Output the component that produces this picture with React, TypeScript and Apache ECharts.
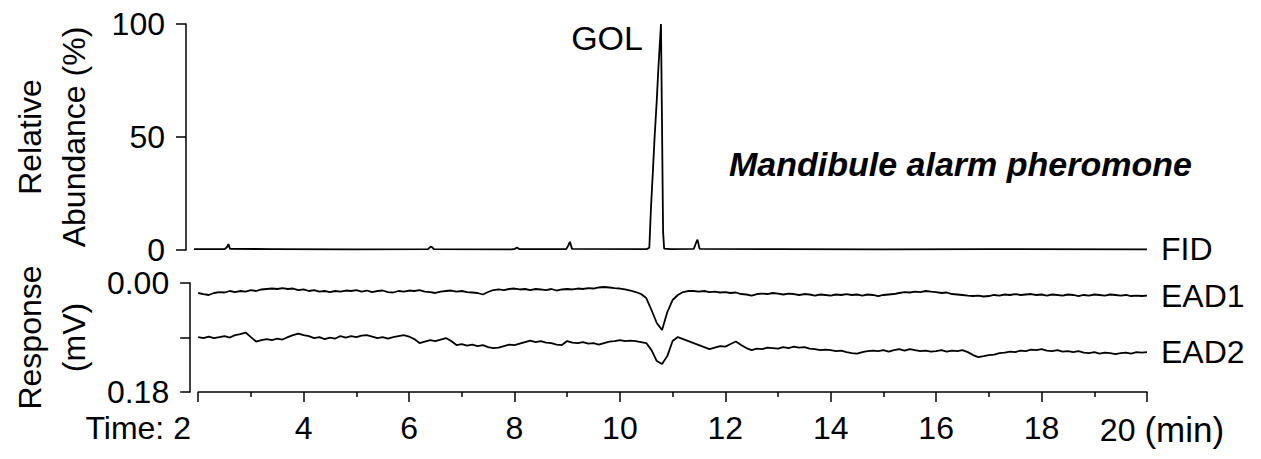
import React, { useEffect, useRef } from 'react';
import * as echarts from 'echarts';

const FONT = '"Liberation Sans", Arial, Helvetica, sans-serif';

// x-axis tick range (min)
const X_MIN = 2;
const X_MAX = 20;

// FID trace: retention time (min) and relative abundance (%)
const FID_TIME = [2.0, 2.58, 2.62, 2.65, 2.68, 3.5, 5.0, 6.42, 6.47, 6.5, 6.53, 8.0, 8.06, 8.1, 8.14, 9.03, 9.07, 9.1, 9.14, 10.55, 10.6, 10.63, 10.67, 10.7, 10.74, 10.77, 10.8, 10.82, 10.84, 10.86, 10.88, 11.0, 11.44, 11.48, 11.51, 11.55, 13, 15, 17, 20];
const FID_VALUE = [0.4, 0.4, 1.2, 2.6, 0.5, 0.4, 0.3, 0.4, 1.5, 1.2, 0.4, 0.3, 0.5, 1.1, 0.4, 0.4, 2.0, 3.6, 0.5, 0.4, 1.0, 18, 36, 50, 66, 80, 92, 100, 55, 8, 0.6, 0.4, 0.5, 3.0, 4.6, 0.5, 0.4, 0.3, 0.4, 0.3];

// EAD traces sampled every 0.1 min from 2.0 to 20.0 (response in µV, axis shown in mV)
const EAD_TIME = Array.from({ length: 181 }, (_, i) => Math.round((2 + i * 0.1) * 10) / 10);
const EAD1_UV = [
  16.5, 18.2, 19.8, 16.5, 14.9, 15.7, 13.2, 14.9, 13.2, 14.1,
  11.6, 13.2, 10.7, 9.9, 9.1, 9.9, 8.3, 9.9, 9.1, 11.6,
  10.7, 13.2, 11.6, 14.1, 13.2, 14.9, 13.2, 14.1, 12.4, 13.2,
  11.6, 14.1, 12.4, 14.9, 13.2, 12.4, 14.9, 15.7, 13.2, 14.1,
  12.4, 13.2, 11.6, 14.1, 14.9, 16.5, 14.1, 13.2, 12.4, 14.1,
  13.2, 14.9, 15.7, 16.5, 19.0, 14.9, 11.6, 10.7, 11.6, 9.9,
  9.1, 10.7, 9.9, 11.6, 9.9, 10.7, 11.6, 9.9, 12.4, 10.7,
  9.9, 10.7, 9.1, 9.9, 8.3, 9.1, 7.4, 6.6, 7.4, 8.3,
  9.1, 10.7, 12.4, 14.9, 18.2, 24.8, 44.6, 66.1, 77.7, 47.9,
  28.1, 19.8, 14.9, 13.2, 13.2, 14.1, 13.2, 14.9, 14.1, 15.7,
  14.9, 16.5, 15.7, 18.2, 19.0, 20.7, 18.2, 17.4, 18.2, 16.5,
  17.4, 19.0, 17.4, 18.2, 19.8, 18.2, 19.0, 20.7, 19.0, 19.8,
  20.7, 19.0, 19.8, 18.2, 19.8, 19.0, 20.7, 19.0, 19.8, 21.5,
  19.8, 19.0, 18.2, 16.5, 14.9, 15.7, 14.1, 14.9, 13.2, 14.1,
  14.9, 16.5, 15.7, 18.2, 19.0, 19.8, 20.7, 21.5, 20.7, 22.3,
  21.5, 19.8, 20.7, 19.0, 19.8, 18.2, 19.8, 19.0, 18.2, 19.8,
  19.0, 20.7, 19.0, 19.8, 20.7, 19.0, 19.8, 21.5, 19.8, 20.7,
  19.0, 19.8, 20.7, 19.0, 19.8, 20.7, 19.8, 21.5, 20.7, 21.5,
  20.7,
];
const EAD2_UV = [
  89.3, 90.9, 88.4, 90.9, 89.3, 87.6, 90.1, 86.0, 84.3, 81.8,
  89.3, 96.7, 94.2, 92.6, 94.2, 91.7, 93.4, 89.3, 86.0, 83.5,
  86.0, 87.6, 90.9, 89.3, 92.6, 90.1, 91.7, 87.6, 90.1, 87.6,
  89.3, 86.8, 86.0, 88.4, 90.9, 89.3, 91.7, 89.3, 87.6, 86.0,
  88.4, 92.6, 99.2, 96.7, 94.2, 95.9, 93.4, 90.9, 95.9, 102.5,
  100.8, 103.3, 101.7, 104.1, 102.5, 105.8, 107.4, 106.6, 104.1, 101.7,
  102.5, 100.0, 97.5, 95.0, 97.5, 95.9, 98.4, 99.2, 101.7, 102.5,
  95.9, 98.4, 99.2, 97.5, 100.0, 99.2, 101.7, 99.2, 96.7, 95.9,
  94.2, 95.9, 95.0, 95.9, 97.5, 99.2, 110.8, 128.9, 133.9, 120.7,
  95.9, 89.3, 92.6, 95.9, 99.2, 102.5, 105.8, 109.1, 106.6, 104.1,
  105.0, 100.8, 96.7, 102.5, 107.4, 110.8, 108.3, 109.1, 106.6, 107.4,
  108.3, 105.8, 107.4, 105.0, 106.6, 105.8, 108.3, 109.1, 110.8, 109.9,
  110.8, 112.4, 111.6, 114.1, 115.7, 116.5, 114.1, 112.4, 111.6, 112.4,
  110.8, 113.2, 110.8, 109.1, 111.6, 109.1, 110.8, 112.4, 111.6, 113.2,
  112.4, 110.8, 113.2, 111.6, 112.4, 110.8, 114.1, 119.0, 122.3, 120.7,
  119.0, 118.2, 115.7, 114.9, 113.2, 114.1, 111.6, 112.4, 109.9, 110.8,
  109.1, 111.6, 112.4, 110.8, 113.2, 112.4, 114.1, 112.4, 114.9, 115.7,
  114.1, 116.5, 114.9, 115.7, 117.4, 115.7, 114.9, 116.5, 114.1, 114.9,
  114.1,
];

const SERIES_NAMES = ['FID', 'EAD1', 'EAD2'];
const PEAK_LABEL = 'GOL';
const PEAK_COORD = [10.82, 100];
const ANNOTATION = 'Mandibule alarm pheromone';

const BLACK = '#000';
const axisLineStyle = { color: BLACK, width: 1.5 };
const labelStyle = { color: BLACK, fontSize: 32, fontFamily: FONT };

function buildOption() {
  const lineStyle = { color: BLACK, width: 1.8 };
  const endLabel = (name: string) => ({
    show: true,
    formatter: name,
    distance: 14,
    color: BLACK,
    fontSize: 32,
    fontFamily: FONT,
  });
  return {
    animation: false,
    backgroundColor: '#fff',
    title: {
      text: ANNOTATION,
      left: 724,
      top: 142,
      textStyle: { fontSize: 34, fontStyle: 'italic', fontWeight: 'bold', color: BLACK, fontFamily: FONT },
    },
    grid: [
      { left: 190, right: 114, top: 24, height: 226 },
      { left: 190, right: 114, top: 283, height: 109 },
    ],
    xAxis: [
      { gridIndex: 0, type: 'value', min: X_MIN, max: X_MAX, show: false },
      {
        gridIndex: 1,
        type: 'value',
        min: X_MIN,
        max: X_MAX,
        interval: 2,
        axisLine: { show: true, onZero: false, lineStyle: axisLineStyle },
        axisTick: { show: true, length: 10, lineStyle: axisLineStyle },
        minorTick: { show: true, splitNumber: 2, length: 5, lineStyle: axisLineStyle },
        splitLine: { show: false },
        axisLabel: {
          ...labelStyle,
          margin: 20,
          formatter: (v: number) =>
            v === X_MIN ? '{a|Time: 2}' : v === X_MAX ? '{b|20}{c|(min)}' : String(v),
          rich: {
            a: { ...labelStyle, padding: [0, 120, 0, 0] },
            b: { ...labelStyle, padding: [0, 0, 0, 30] },
            c: { ...labelStyle, fontSize: 35, padding: [0, 0, 0, 9] },
          },
        },
      },
    ],
    yAxis: [
      {
        gridIndex: 0,
        type: 'value',
        min: 0,
        max: 100,
        interval: 50,
        offset: 8,
        axisLine: { show: true, lineStyle: axisLineStyle },
        axisTick: { show: true, length: 10, lineStyle: axisLineStyle },
        splitLine: { show: false },
        axisLabel: { ...labelStyle, margin: 21 },
        name: 'Relative\nAbundance (%)',
        nameLocation: 'middle',
        nameRotate: 90,
        nameGap: 90,
        nameTextStyle: { ...labelStyle, lineHeight: 44 },
      },
      {
        gridIndex: 1,
        type: 'value',
        min: 0,
        max: 180,
        interval: 90,
        inverse: true,
        offset: 8,
        axisLine: { show: true, lineStyle: axisLineStyle },
        axisTick: { show: true, length: 10, lineStyle: axisLineStyle },
        splitLine: { show: false },
        axisLabel: {
          ...labelStyle,
          margin: 21,
          formatter: (v: number) => (v === 90 ? '' : (v / 1000).toFixed(2)),
        },
        name: 'Response\n(mV)',
        nameLocation: 'middle',
        nameRotate: 90,
        nameGap: 90,
        nameTextStyle: { ...labelStyle, lineHeight: 44 },
      },
    ],
    series: [
      {
        name: SERIES_NAMES[0],
        type: 'line',
        xAxisIndex: 0,
        yAxisIndex: 0,
        data: FID_TIME.map((t, i) => [t, FID_VALUE[i]]),
        showSymbol: false,
        symbol: 'none',
        lineStyle,
        endLabel: endLabel(SERIES_NAMES[0]),
        markPoint: {
          symbol: 'circle',
          symbolSize: 0,
          data: [
            {
              coord: PEAK_COORD,
              label: {
                show: true,
                formatter: PEAK_LABEL,
                position: 'left',
                distance: 18,
                offset: [0, 14],
                color: BLACK,
                fontSize: 34,
                fontFamily: FONT,
              },
            },
          ],
        },
      },
      {
        name: SERIES_NAMES[1],
        type: 'line',
        xAxisIndex: 1,
        yAxisIndex: 1,
        data: EAD_TIME.map((t, i) => [t, EAD1_UV[i]]),
        showSymbol: false,
        symbol: 'none',
        lineStyle,
        endLabel: endLabel(SERIES_NAMES[1]),
      },
      {
        name: SERIES_NAMES[2],
        type: 'line',
        xAxisIndex: 1,
        yAxisIndex: 1,
        data: EAD_TIME.map((t, i) => [t, EAD2_UV[i]]),
        showSymbol: false,
        symbol: 'none',
        lineStyle,
        endLabel: endLabel(SERIES_NAMES[2]),
      },
    ],
  };
}

export default function App() {
  const ref = useRef<HTMLDivElement>(null);
  useEffect(() => {
    if (!ref.current) return;
    const chart = echarts.init(ref.current, null, { renderer: 'svg' });
    chart.setOption(buildOption() as any);
    return () => chart.dispose();
  }, []);
  return (
    <div
      ref={ref}
      style={{ position: 'fixed', left: 0, top: 0, width: 1261, height: 459, background: '#fff' }}
    />
  );
}
